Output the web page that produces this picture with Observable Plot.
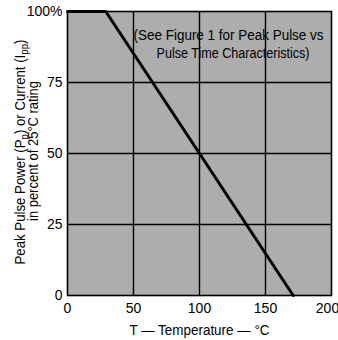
<!DOCTYPE html>
<html><head><meta charset="utf-8">
<script src="https://cdn.jsdelivr.net/npm/d3@7"></script>
<script src="https://cdn.jsdelivr.net/npm/@observablehq/plot@0.6"></script>
<style>
html,body{margin:0;padding:0;background:#fff;}
svg{font-family:"Liberation Sans",Arial,sans-serif;}
</style></head>
<body><div id="chart"></div>
<script>
const temps = [0, 29, 171];
const ratings = [100, 100, 0];
const xTicks = [0, 50, 100, 150, 200];
const yTicks = [0, 25, 50, 75, 100];
const xGrid = [50, 100, 150];
const yGrid = [25, 50, 75];
const noteLines = ["(See Figure 1 for Peak Pulse vs", "Pulse Time Characteristics)"];
const noteX = [122, 125.4];
const noteY = [91.5, 85.2];
const xLabel = "T — Temperature — °C";
const yLabel2 = "in percent of 25°C rating";

const curve = temps.map((t, i) => ({t, r: ratings[i]}));
const notes = noteLines.map((s, i) => ({s, x: noteX[i], y: noteY[i]}));

const plot = Plot.plot({
  width: 338, height: 340,
  marginLeft: 67, marginRight: 7, marginTop: 11, marginBottom: 45,
  style: {fontSize: "14px", background: "white", color: "black"},
  x: {domain: [0, 200]},
  y: {domain: [0, 100]},
  marks: [
    Plot.frame({fill: "url(#stipple)", stroke: null}),
    Plot.ruleX(xGrid, {stroke: "black", strokeWidth: 1.4}),
    Plot.ruleY(yGrid, {stroke: "black", strokeWidth: 1.4}),
    Plot.frame({stroke: "black", strokeWidth: 1.6}),
    Plot.line(curve, {x: "t", y: "r", stroke: "black", strokeWidth: 3}),
    Plot.text(notes, {x: "x", y: "y", text: "s", fontSize: 14, fill: "black"}),
    Plot.axisX(xTicks, {tickSize: 0, tickPadding: 8, label: xLabel, labelArrow: "none", labelAnchor: "center", labelOffset: 39, fontSize: 14}),
    Plot.axisY(yTicks, {tickSize: 0, tickPadding: 5, tickFormat: d => d === 100 ? "100%" : d, label: null, fontSize: 14})
  ]
});

const svg = d3.select(plot);
const pat = svg.insert("defs", ":first-child").append("pattern")
  .attr("id", "stipple").attr("patternUnits", "userSpaceOnUse")
  .attr("width", 2).attr("height", 2);
pat.append("rect").attr("width", 2).attr("height", 2).attr("fill", "#e0e0e0");
pat.append("rect").attr("width", 1).attr("height", 1).attr("fill", "#7a7a7a");
pat.append("rect").attr("x", 1).attr("y", 1).attr("width", 1).attr("height", 1).attr("fill", "#7a7a7a");

// condense texts to the reference widths (the reference uses a condensed face)
const fitWidths = new Map([[noteLines[0], 190], [noteLines[1], 153], [xLabel, 140]]);
svg.selectAll("text").each(function() {
  const t = this.textContent;
  if (fitWidths.has(t)) {
    d3.select(this).attr("textLength", fitWidths.get(t)).attr("lengthAdjust", "spacingAndGlyphs");
  }
  if (t === "200") d3.select(this).attr("dx", -4);
});

const yl = svg.append("text")
  .attr("transform", "translate(25,152) rotate(-90)")
  .attr("text-anchor", "middle").attr("font-size", 15).attr("fill", "black")
  .attr("textLength", 225).attr("lengthAdjust", "spacingAndGlyphs");
yl.append("tspan").text("Peak Pulse Power (P");
yl.append("tspan").attr("font-size", 11).attr("dy", 3).text("p");
yl.append("tspan").attr("dy", -3).text(") or Current (I");
yl.append("tspan").attr("font-size", 11).attr("dy", 3).text("pp");
yl.append("tspan").attr("dy", -3).text(")");
svg.append("text")
  .attr("transform", "translate(38,151) rotate(-90)")
  .attr("text-anchor", "middle").attr("font-size", 15).attr("fill", "black")
  .attr("textLength", 140).attr("lengthAdjust", "spacingAndGlyphs")
  .text(yLabel2);

document.getElementById("chart").appendChild(plot);
</script></body></html>
